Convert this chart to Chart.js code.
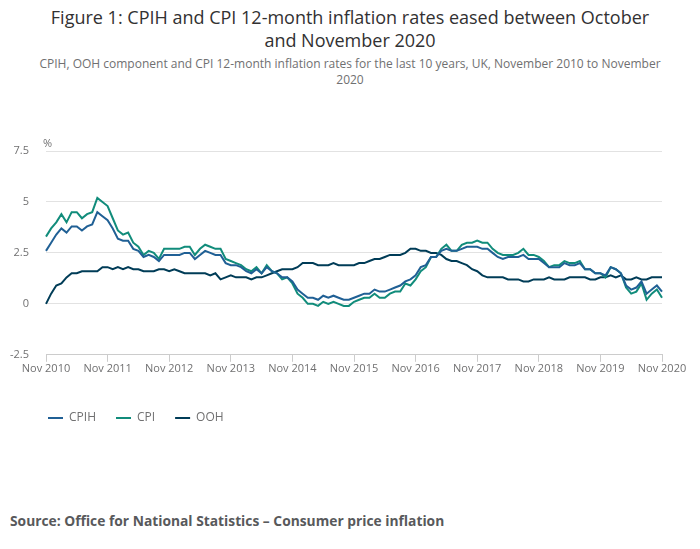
<!DOCTYPE html>
<html>
<head>
<meta charset="utf-8">
<script src="https://cdn.jsdelivr.net/npm/chart.js@4"></script>
<style>
  body { margin: 0; background: #fff; font-family: "Open Sans", sans-serif; }
  #wrap { position: relative; width: 700px; height: 549px; }
  #title { position: absolute; top: 6px; left: 0; width: 700px; text-align: center;
           font-size: 18px; line-height: 23px; color: #323132; }
  #subtitle { position: absolute; top: 56px; left: 30px; width: 640px; text-align: center;
              font-size: 12px; line-height: 16px; color: #707071; }
  #chartBox { position: absolute; top: 125px; left: 0; width: 700px; height: 309px; }
  #source { position: absolute; top: 511px; left: 10px; font-size: 13.8px; font-weight: bold; color: #58595b; }
</style>
</head>
<body>
<div id="wrap">
  <div id="title">Figure 1: CPIH and CPI 12-month inflation rates eased between October<br>and November 2020</div>
  <div id="subtitle">CPIH, OOH component and CPI 12-month inflation rates for the last 10 years, UK, November 2010 to November 2020</div>
  <div id="chartBox"><canvas id="inflationChart"></canvas></div>
  <div id="source">Source: Office for National Statistics – Consumer price inflation</div>
</div>
<script>
// Monthly, Nov 2010 .. Nov 2020
const tickLabels = ['Nov 2010', 'Nov 2011', 'Nov 2012', 'Nov 2013', 'Nov 2014', 'Nov 2015',
                    'Nov 2016', 'Nov 2017', 'Nov 2018', 'Nov 2019', 'Nov 2020'];
const monthNames = ['Jan', 'Feb', 'Mar', 'Apr', 'May', 'Jun', 'Jul', 'Aug', 'Sep', 'Oct', 'Nov', 'Dec'];

const cpih = [
  2.6, 3.0,
  3.4, 3.7, 3.5, 3.8, 3.8, 3.6, 3.8, 3.9, 4.5, 4.3, 4.1, 3.7,
  3.2, 3.1, 3.1, 2.7, 2.6, 2.3, 2.4, 2.3, 2.1, 2.4, 2.4, 2.4,
  2.4, 2.5, 2.5, 2.2, 2.4, 2.6, 2.5, 2.4, 2.4, 2.0, 1.9, 1.9,
  1.8, 1.6, 1.5, 1.7, 1.5, 1.8, 1.6, 1.5, 1.3, 1.3, 1.1, 0.7,
  0.5, 0.3, 0.3, 0.2, 0.4, 0.3, 0.4, 0.3, 0.2, 0.2, 0.3, 0.4,
  0.5, 0.5, 0.7, 0.6, 0.6, 0.7, 0.8, 0.9, 1.1, 1.2, 1.4, 1.8,
  1.9, 2.3, 2.3, 2.6, 2.7, 2.6, 2.6, 2.7, 2.8, 2.8, 2.8, 2.7,
  2.7, 2.5, 2.3, 2.2, 2.3, 2.3, 2.3, 2.4, 2.2, 2.2, 2.2, 2.0,
  1.8, 1.8, 1.8, 2.0, 1.9, 1.9, 2.0, 1.7, 1.7, 1.5, 1.5, 1.4,
  1.8, 1.7, 1.5, 0.9, 0.7, 0.8, 1.1, 0.5, 0.7, 0.9, 0.6
];
const cpi = [
  3.3, 3.7,
  4.0, 4.4, 4.0, 4.5, 4.5, 4.2, 4.4, 4.5, 5.2, 5.0, 4.8, 4.2,
  3.6, 3.4, 3.5, 3.0, 2.8, 2.4, 2.6, 2.5, 2.2, 2.7, 2.7, 2.7,
  2.7, 2.8, 2.8, 2.4, 2.7, 2.9, 2.8, 2.7, 2.7, 2.2, 2.1, 2.0,
  1.9, 1.7, 1.6, 1.8, 1.5, 1.9, 1.6, 1.5, 1.2, 1.3, 1.0, 0.5,
  0.3, 0.0, 0.0, -0.1, 0.1, 0.0, 0.1, 0.0, -0.1, -0.1, 0.1, 0.2,
  0.3, 0.3, 0.5, 0.3, 0.3, 0.5, 0.6, 0.6, 1.0, 0.9, 1.2, 1.6,
  1.8, 2.3, 2.3, 2.7, 2.9, 2.6, 2.6, 2.9, 3.0, 3.0, 3.1, 3.0,
  3.0, 2.7, 2.5, 2.4, 2.4, 2.4, 2.5, 2.7, 2.4, 2.4, 2.3, 2.1,
  1.8, 1.9, 1.9, 2.1, 2.0, 2.0, 2.1, 1.7, 1.7, 1.5, 1.5, 1.3,
  1.8, 1.7, 1.5, 0.8, 0.5, 0.6, 1.0, 0.2, 0.5, 0.7, 0.3
];
const ooh = [
  0.0, 0.5,
  0.9, 1.0, 1.3, 1.5, 1.5, 1.6, 1.6, 1.6, 1.6, 1.8, 1.8, 1.7,
  1.8, 1.7, 1.8, 1.7, 1.7, 1.6, 1.6, 1.6, 1.7, 1.7, 1.6, 1.7,
  1.6, 1.5, 1.5, 1.5, 1.5, 1.5, 1.4, 1.5, 1.2, 1.3, 1.4, 1.3,
  1.3, 1.3, 1.2, 1.3, 1.3, 1.4, 1.5, 1.6, 1.7, 1.7, 1.7, 1.8,
  2.0, 2.0, 2.0, 1.9, 1.9, 1.9, 2.0, 1.9, 1.9, 1.9, 1.9, 2.0,
  2.0, 2.1, 2.2, 2.2, 2.3, 2.4, 2.4, 2.4, 2.5, 2.7, 2.7, 2.6,
  2.6, 2.5, 2.5, 2.4, 2.2, 2.1, 2.1, 2.0, 1.9, 1.7, 1.6, 1.4,
  1.3, 1.3, 1.3, 1.3, 1.2, 1.2, 1.2, 1.1, 1.1, 1.2, 1.2, 1.2,
  1.3, 1.2, 1.2, 1.2, 1.3, 1.3, 1.3, 1.3, 1.2, 1.2, 1.3, 1.3,
  1.4, 1.3, 1.4, 1.2, 1.2, 1.3, 1.2, 1.2, 1.3, 1.3, 1.3
];

// category labels, one per month
const months = [];
for (let i = 0; i < cpih.length; i++) {
    const m = (10 + i) % 12;
    const y = 2010 + Math.floor((10 + i) / 12);
    months.push(monthNames[m] + ' ' + y);
}

const greyText = '#707071';
Chart.defaults.font.family = '"Open Sans", sans-serif';
Chart.defaults.color = greyText;

// "%" unit above the y axis, and nudge the legend under the plot
const extras = {
    id: 'extras',
    afterLayout(chart) {
        chart.legend.left += 19;
        chart.legend.right += 19;
    },
    afterDraw(chart) {
        const c = chart.ctx;
        c.save();
        c.font = '11px "Open Sans", sans-serif';
        c.fillStyle = greyText;
        c.textAlign = 'left';
        c.textBaseline = 'middle';
        c.fillText('%', chart.chartArea.left - 3, chart.chartArea.top - 7);
        c.restore();
    }
};

const ctx = document.getElementById('inflationChart').getContext('2d');
let inflationChart = new Chart(ctx, {
    type: 'line',
    data: {
        labels: months,
        datasets: [
            { label: 'CPIH', data: cpih, borderColor: '#206095', backgroundColor: '#206095', borderWidth: 2 },
            { label: 'CPI', data: cpi, borderColor: '#118c7b', backgroundColor: '#118c7b', borderWidth: 2 },
            { label: 'OOH', data: ooh, borderColor: '#003c57', backgroundColor: '#003c57', borderWidth: 2 }
        ]
    },
    options: {
        responsive: true,
        maintainAspectRatio: false,
        animation: false,
        elements: { point: { radius: 0 }, line: { tension: 0 } },
        layout: { padding: { left: 9, right: 38, top: 26, bottom: 0 } },
        scales: {
            x: {
                grid: { drawOnChartArea: false, drawTicks: true, tickLength: 7, color: '#cccccc' },
                border: { color: '#cccccc' },
                ticks: {
                    autoSkip: false,
                    maxRotation: 0,
                    padding: 0,
                    font: { size: 11 },
                    callback: function (value, index) {
                        return index % 12 === 0 ? tickLabels[index / 12] : null;
                    }
                },
                afterFit: function (scale) { scale.height += 17; }
            },
            y: {
                min: -2.5,
                max: 7.5,
                grid: { color: '#e2e2e2', drawTicks: false },
                border: { display: false },
                ticks: { stepSize: 2.5, padding: 17, font: { size: 11 } },
                afterFit: function (scale) { scale.width = 37; }
            }
        },
        plugins: {
            title: { display: false },
            tooltip: { enabled: false },
            legend: {
                position: 'bottom',
                align: 'start',
                labels: {
                    usePointStyle: true,
                    pointStyle: 'line',
                    pointStyleWidth: 15,
                    padding: 20,
                    color: greyText,
                    font: { size: 12 }
                }
            }
        }
    },
    plugins: [extras]
});
</script>
</body>
</html>
